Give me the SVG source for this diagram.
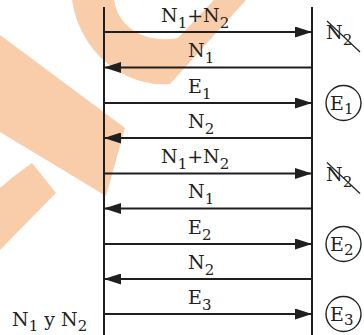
<svg xmlns="http://www.w3.org/2000/svg" width="364" height="335" viewBox="0 0 364 335">
<defs>
<style>
.wm{fill:#FACDAA;stroke:none}
.life{stroke:#1f1f1f;stroke-width:2;fill:none}
.msg{stroke:#1f1f1f;stroke-width:2;fill:none;marker-end:url(#head)}
.lbl{font-family:"DejaVu Serif","Liberation Serif",serif;font-size:19px;fill:#222}
.sub{font-size:15px}
.strike{stroke:#222;stroke-width:1.2}
.ring{fill:none;stroke:#222;stroke-width:1.4}
</style>
<marker id="head" viewBox="0 0 17 11" refX="17" refY="5.5" markerWidth="17" markerHeight="11" markerUnits="userSpaceOnUse" orient="auto">
<path d="M0,0 L17,5.5 L0,11 Z" fill="#1f1f1f"/>
</marker>
</defs>
<rect width="364" height="335" fill="#ffffff"/>
<g id="watermark">
<path class="wm" d="M72,0 C80,55 128,88 170,84 L246,0 L214,0 L178,38 C146,44 118,28 114,0 Z"/>
<path class="wm" d="M0,35 L125,128 L106,196 L0,132 Z"/>
<path class="wm" d="M13,177 L32,163 L56,193 L0,250 L0,188 Z"/>
</g>
<g id="lifeline-left"><line class="life" x1="104" y1="7" x2="104" y2="335"/></g>
<g id="lifeline-right"><line class="life" x1="312" y1="7" x2="312" y2="335"/></g>
<g id="connectors">
<line class="msg" x1="104" y1="32" x2="312" y2="32"/>
<line class="msg" x1="312" y1="67.5" x2="104" y2="67.5"/>
<line class="msg" x1="104" y1="103" x2="312" y2="103"/>
<line class="msg" x1="312" y1="138" x2="104" y2="138"/>
<line class="msg" x1="104" y1="173.5" x2="312" y2="173.5"/>
<line class="msg" x1="312" y1="208.5" x2="104" y2="208.5"/>
<line class="msg" x1="104" y1="244" x2="312" y2="244"/>
<line class="msg" x1="312" y1="279" x2="104" y2="279"/>
<line class="msg" x1="104" y1="314" x2="312" y2="314"/>
</g>
<g id="labels">
<text class="lbl" x="161" y="21.5">N<tspan class="sub" dy="6">1</tspan><tspan dy="-6">+N</tspan><tspan class="sub" dy="6">2</tspan></text>
<text class="lbl" x="188" y="57">N<tspan class="sub" dy="6">1</tspan></text>
<text class="lbl" x="188" y="92.5">E<tspan class="sub" dy="6">1</tspan></text>
<text class="lbl" x="188" y="127.5">N<tspan class="sub" dy="6">2</tspan></text>
<text class="lbl" x="161" y="163">N<tspan class="sub" dy="6">1</tspan><tspan dy="-6">+N</tspan><tspan class="sub" dy="6">2</tspan></text>
<text class="lbl" x="188" y="198">N<tspan class="sub" dy="6">1</tspan></text>
<text class="lbl" x="188" y="233.5">E<tspan class="sub" dy="6">2</tspan></text>
<text class="lbl" x="188" y="268.5">N<tspan class="sub" dy="6">2</tspan></text>
<text class="lbl" x="188" y="303.5">E<tspan class="sub" dy="6">3</tspan></text>
</g>
<g id="note-n2-a">
<text class="lbl" x="326" y="39">N<tspan class="sub" dy="6">2</tspan></text>
<line class="strike" x1="327" y1="21" x2="360" y2="52"/>
</g>
<g id="note-e1">
<circle class="ring" cx="343.5" cy="103" r="17.5"/>
<text class="lbl" x="330" y="110">E<tspan class="sub" dy="4">1</tspan></text>
</g>
<g id="note-n2-b">
<text class="lbl" x="326" y="180.5">N<tspan class="sub" dy="6">2</tspan></text>
<line class="strike" x1="327" y1="162.5" x2="360" y2="193.5"/>
</g>
<g id="note-e2">
<circle class="ring" cx="343.5" cy="244" r="17.5"/>
<text class="lbl" x="330" y="251">E<tspan class="sub" dy="4">2</tspan></text>
</g>
<g id="note-e3">
<circle class="ring" cx="343.5" cy="314" r="17.5"/>
<text class="lbl" x="330" y="321">E<tspan class="sub" dy="4">3</tspan></text>
</g>
<g id="note-n1yn2">
<text class="lbl" x="12" y="326">N<tspan class="sub" dy="5">1</tspan><tspan dy="-5"> y N</tspan><tspan class="sub" dy="5">2</tspan></text>
</g>
</svg>
